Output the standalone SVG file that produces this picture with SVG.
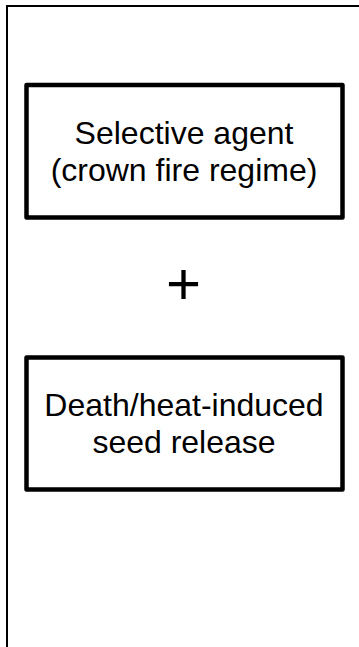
<svg xmlns="http://www.w3.org/2000/svg" width="359" height="647" viewBox="0 0 359 647">
<style>
.frame{fill:none;stroke:#000;stroke-width:2}
.box{fill:#fff;stroke:#000;stroke-width:4.5;stroke-linejoin:round}
.lbl{font-family:"Liberation Sans",Arial,Helvetica,sans-serif;font-size:32px;fill:#000;text-anchor:middle}
.plus{font-family:"Liberation Sans",Arial,Helvetica,sans-serif;font-size:60px;fill:#000;text-anchor:middle}
</style>
<rect width="359" height="647" fill="#fff"/>
<path class="frame" d="M7,647 V6 H360"/>
<g id="selective-agent">
<rect class="box" x="26.5" y="85" width="316" height="132.5"/>
<text class="lbl" x="184" y="144">Selective agent</text>
<text class="lbl" x="184" y="181">(crown fire regime)</text>
</g>
<g id="plus">
<text class="plus" x="183.5" y="304">+</text>
</g>
<g id="seed-release">
<rect class="box" x="26.5" y="357.5" width="316" height="132"/>
<text class="lbl" x="184" y="416">Death/heat-induced</text>
<text class="lbl" x="184" y="453">seed release</text>
</g>
<g id="connectors"></g>
</svg>
